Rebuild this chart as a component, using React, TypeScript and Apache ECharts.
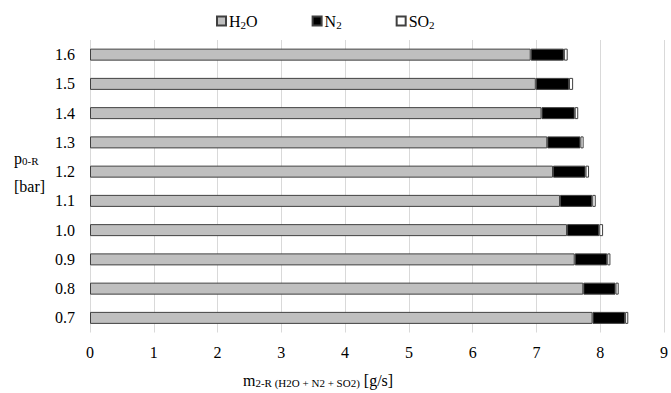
import React, { useEffect, useRef } from "react";
import * as echarts from "echarts";

const categories = ["0.7", "0.8", "0.9", "1.0", "1.1", "1.2", "1.3", "1.4", "1.5", "1.6"];
const h2o = [7.88, 7.735, 7.6, 7.48, 7.37, 7.26, 7.17, 7.08, 6.99, 6.91];
const n2 = [0.51, 0.505, 0.51, 0.505, 0.505, 0.51, 0.52, 0.52, 0.52, 0.52];
const so2 = [0.05, 0.05, 0.05, 0.06, 0.055, 0.055, 0.05, 0.055, 0.065, 0.06];
const xTicks = [0, 1, 2, 3, 4, 5, 6, 7, 8, 9];

const FONT = "Liberation Serif";

export default function App() {
  const ref = useRef<HTMLDivElement>(null);
  useEffect(() => {
    if (!ref.current) return;
    const chart = echarts.init(ref.current, null, { renderer: "svg" });
    const border = { borderColor: "#404040", borderWidth: 1 };
    const rich = {
      a: { fontFamily: FONT, fontSize: 16, color: "#000" },
      s: { fontFamily: FONT, fontSize: 11, color: "#000", padding: [8, 0, 0, 0] },
    };
    chart.setOption({
      animation: false,
      textStyle: { fontFamily: FONT },
      legend: {
        top: 8,
        left: 211,
        itemWidth: 9,
        itemHeight: 9,
        itemGap: 54,
        icon: "rect",
        data: ["H2O", "N2", "SO2"],
        formatter: (name: string) => {
          if (name === "H2O") return "{a|H}{s|2}{a|O}";
          if (name === "N2") return "{a|N}{s|2}";
          return "{a|SO}{s|2}";
        },
        textStyle: { fontFamily: FONT, rich, padding: [0, 0, 0, -2] },
      },
      grid: { left: 90, right: 7, top: 40, height: 292.5 },
      xAxis: {
        type: "value",
        min: xTicks[0],
        max: xTicks[xTicks.length - 1],
        interval: 1,
        axisLine: { show: false },
        axisTick: { show: false },
        splitLine: { show: true, lineStyle: { color: "#d9d9d9", width: 1 } },
        axisLabel: { fontFamily: FONT, fontSize: 16, color: "#000", margin: 12 },
      },
      yAxis: {
        type: "category",
        data: categories,
        axisLine: { show: false },
        axisTick: { show: false },
        axisLabel: { fontFamily: FONT, fontSize: 16, color: "#000", margin: 15 },
      },
      series: [
        { name: "H2O", type: "bar", stack: "t", data: h2o, barWidth: 12, itemStyle: { color: "#bfbfbf", ...border } },
        { name: "N2", type: "bar", stack: "t", data: n2, barWidth: 12, itemStyle: { color: "#000000", ...border } },
        { name: "SO2", type: "bar", stack: "t", data: so2, barWidth: 12, itemStyle: { color: "#ffffff", ...border } },
      ],
      graphic: [
        {
          type: "text",
          left: 14,
          top: 150,
          style: {
            text: "{a|p}{s|0-R}",
            fontFamily: FONT,
            rich: { a: { ...rich.a }, s: { ...rich.s, padding: [6, 0, 0, 0] } },
          },
        },
        {
          type: "text",
          left: 14,
          top: 178,
          style: { text: "[bar]", fontFamily: FONT, fontSize: 16, fill: "#000" },
        },
        {
          type: "text",
          left: 243,
          top: 372,
          style: {
            text: "{a|m}{s|2-R (H2O + N2 + SO2)}{a| [g/s]}",
            fontFamily: FONT,
            rich: { a: { ...rich.a }, s: { ...rich.s, padding: [6, 0, 0, 0] } },
          },
        },
      ],
    });
    return () => chart.dispose();
  }, []);
  return <div ref={ref} style={{ width: 671, height: 393, position: "absolute", left: 0, top: 0 }} />;
}
